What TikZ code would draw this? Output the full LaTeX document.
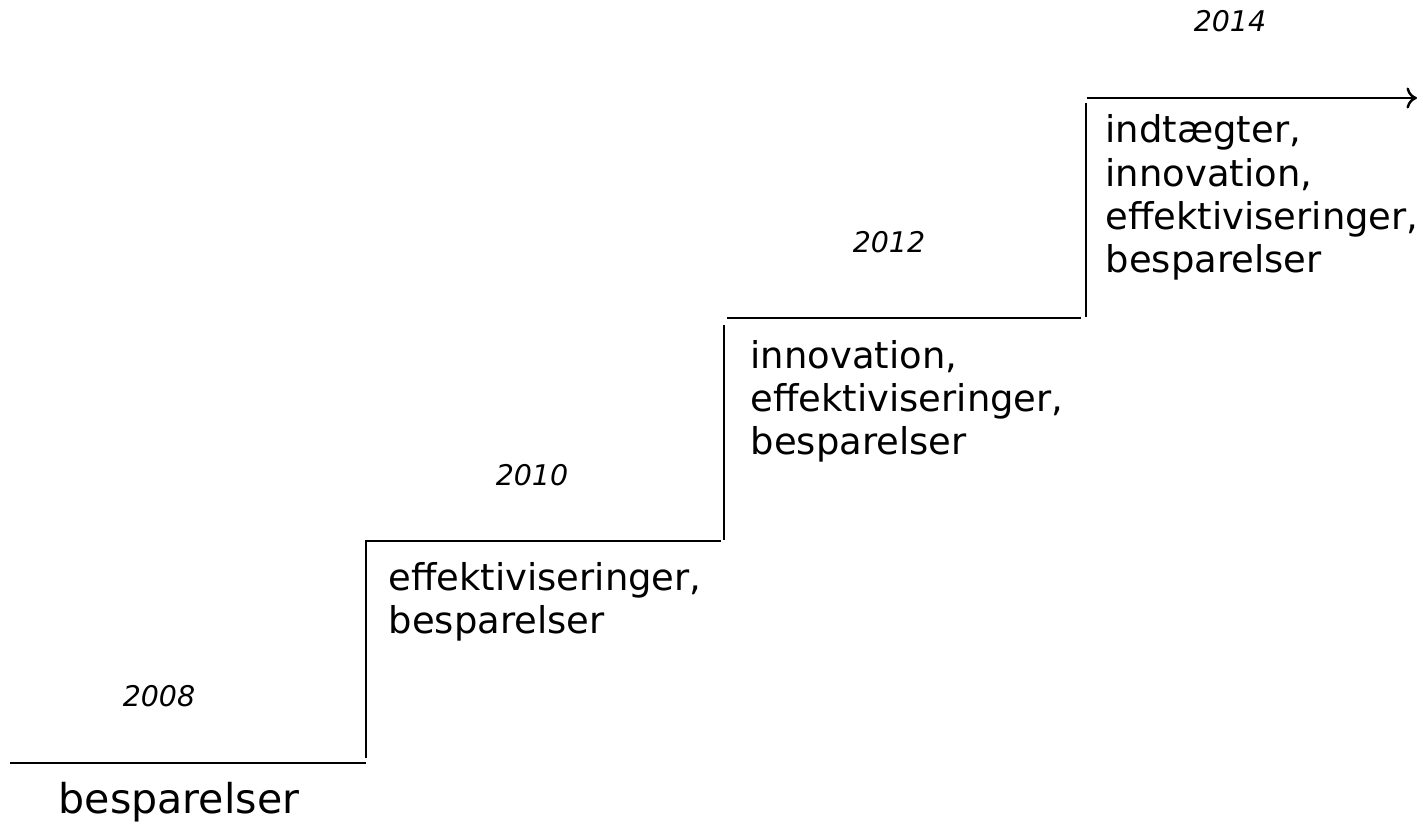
\documentclass[tikz,border=0pt]{standalone}
\usepackage{fontspec}
\setmainfont{DejaVu Sans}
\usepackage{tikz}
\usetikzlibrary{arrows.meta}

\tikzset{
  stepline/.style={line width=0.7pt},
  year/.style={anchor=base,inner sep=0pt,font=\fontsize{8.1pt}{9.7pt}\selectfont\itshape},
  gain/.style={anchor=base west,inner sep=0pt,align=left,font=\fontsize{10.5pt}{12.35pt}\selectfont}
}

\begin{document}
\begin{tikzpicture}
\useasboundingbox (0,0) rectangle (14.19,8.25);
% the steps
\draw[stepline] (0.10,0.62)--(3.66,0.62);
\draw[stepline] (3.66,0.67)--(3.66,2.83);
\draw[stepline] (3.65,2.84)--(7.21,2.84);
\draw[stepline] (7.24,2.85)--(7.24,5.00);
\draw[stepline] (7.27,5.07)--(10.81,5.07);
\draw[stepline] (10.86,5.08)--(10.86,7.22);
\draw[stepline,-{To[length=3pt,width=6pt]}] (10.87,7.27)--(14.17,7.27);
% years
\node[year] (y2008) at (1.59,1.18) {2008};
\node[year] (y2010) at (5.32,3.39) {2010};
\node[year] (y2012) at (8.89,5.72) {2012};
\node[year] (y2014) at (12.30,7.93) {2014};
% what each step brings
\node[anchor=base,inner sep=0pt,font=\fontsize{11.7pt}{14pt}\selectfont] (s1) at (1.79,0.11) {besparelser};
\node[gain] (s2) at (3.88,1.91) {effektiviseringer,\\ besparelser};
\node[gain] (s3) at (7.50,3.70) {innovation,\\ effektiviseringer,\\ besparelser};
\node[gain] (s4) at (11.05,5.52) {indtægter,\\ innovation,\\ effektiviseringer,\\ besparelser};
\end{tikzpicture}
\end{document}
